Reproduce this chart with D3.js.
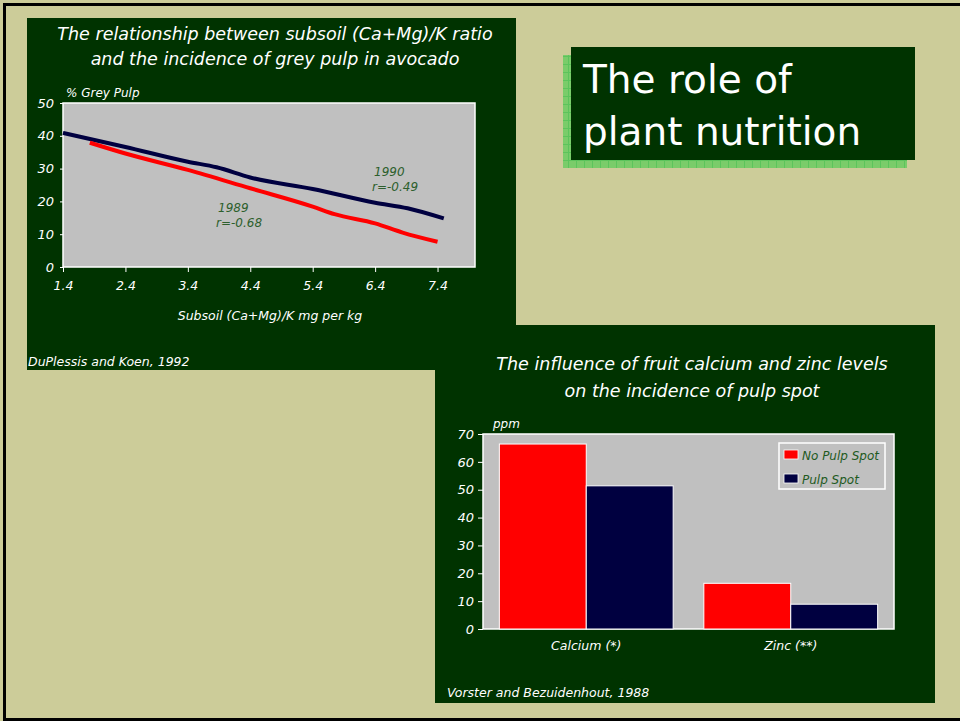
<!DOCTYPE html>
<html>
<head>
<meta charset="utf-8">
<script src="https://cdn.jsdelivr.net/npm/d3@7/dist/d3.min.js"></script>
<style>
  html, body { margin: 0; padding: 0; background: #cccc99; }
  svg { display: block; }
</style>
</head>
<body>
<svg id="slide" width="960" height="721"></svg>
<script>
// line chart data
var xTicks = [1.4, 2.4, 3.4, 4.4, 5.4, 6.4, 7.4];
var ratio1990 = [1.4, 2.4, 3.4, 3.86, 4.4, 5.4, 6.4, 6.92, 7.5];
var grey1990 = [40.9, 36.6, 32.1, 30.4, 27.3, 23.8, 19.6, 17.9, 14.8];
var ratio1989 = [1.83, 2.4, 3.4, 4.4, 5.4, 5.75, 6.4, 6.84, 7.4];
var grey1989 = [37.9, 34.6, 29.6, 24.0, 18.4, 16.1, 13.3, 10.5, 7.7];

// bar chart data
var nutrients = ["Calcium (*)", "Zinc (**)"];
var seriesNames = ["No Pulp Spot", "Pulp Spot"];
var noPulpSpot = [66.4, 16.4];
var pulpSpot = [51.4, 8.9];

var FONT = '"Comic Sans MS", "DejaVu Sans", sans-serif';
var GREEN = "#003300";
var RED = "#ff0000";
var NAVY = "#000040";

var svg = d3.select("#slide");

// slide background + frame
svg.append("rect").attr("width", 960).attr("height", 721).attr("fill", "#cccc99");
svg.append("rect").attr("x", 4.5).attr("y", 4.5).attr("width", 1000).attr("height", 715)
    .attr("fill", "none").attr("stroke", "#000").attr("stroke-width", 3);

// panels
svg.append("rect").attr("x", 27).attr("y", 18).attr("width", 489).attr("height", 352).attr("fill", GREEN);
svg.append("rect").attr("x", 435).attr("y", 325).attr("width", 500).attr("height", 378).attr("fill", GREEN);

// title box with green grid shadow
var defs = svg.append("defs");
var pat = defs.append("pattern").attr("id", "grid").attr("patternUnits", "userSpaceOnUse")
    .attr("width", 8).attr("height", 8);
pat.append("rect").attr("width", 8).attr("height", 8).attr("fill", "#7acc6a");
pat.append("path").attr("d", "M0 0.5H8M0.5 0V8").attr("stroke", "#5cc45c").attr("stroke-width", 1);
svg.append("rect").attr("x", 563).attr("y", 55).attr("width", 344).attr("height", 113).attr("fill", "url(#grid)");
svg.append("rect").attr("x", 571).attr("y", 47).attr("width", 344).attr("height", 113).attr("fill", GREEN);
svg.append("text").attr("x", 583).attr("y", 93).text("The role of")
    .attr("fill", "#fff").style("font-family", FONT).style("font-size", "39px");
svg.append("text").attr("x", 583).attr("y", 145).text("plant nutrition")
    .attr("fill", "#fff").style("font-family", FONT).style("font-size", "39px");

function label(g, x, y, txt, size, color, anchor) {
    return g.append("text").attr("x", x).attr("y", y).text(txt)
        .attr("fill", color || "#fff")
        .attr("text-anchor", anchor || "start")
        .style("font-family", FONT).style("font-style", "italic")
        .style("font-size", size + "px");
}

function styleAxis(g, size) {
    g.select(".domain").remove();
    g.selectAll(".tick line").attr("stroke", "#fff");
    g.selectAll(".tick text").attr("fill", "#fff")
        .style("font-family", FONT).style("font-style", "italic").style("font-size", size + "px");
}

// ---------- line chart ----------
(function () {
    var left = 63, right = 475, top = 103, bottom = 267;
    var x = d3.scaleLinear().domain([1.4, 8.0]).range([left, right]);
    var y = d3.scaleLinear().domain([0, 50]).range([bottom, top]);

    label(svg, 275, 40, "The relationship between subsoil (Ca+Mg)/K ratio", 17.5, "#fff", "middle");
    label(svg, 275, 65, "and the incidence of grey pulp in avocado", 17.5, "#fff", "middle");

    svg.append("rect").attr("x", left).attr("y", top).attr("width", right - left).attr("height", bottom - top)
        .attr("fill", "#c0c0c0").attr("stroke", "#fff").attr("stroke-width", 1.5);

    var ya = svg.append("g").attr("transform", "translate(" + left + ",0)")
        .call(d3.axisLeft(y).tickValues([0, 10, 20, 30, 40, 50]).tickSize(3).tickPadding(6));
    styleAxis(ya, 13);
    var xa = svg.append("g").attr("transform", "translate(0," + bottom + ")")
        .call(d3.axisBottom(x).tickValues(xTicks).tickFormat(d3.format(".1f")).tickSize(5).tickPadding(9));
    styleAxis(xa, 12.5);

    label(svg, 66, 97, "% Grey Pulp", 12);
    label(svg, 270, 320, "Subsoil (Ca+Mg)/K mg per kg", 12.5, "#fff", "middle");
    label(svg, 28, 366, "DuPlessis and Koen, 1992", 12.5);

    var line = d3.line().x(function (d) { return x(d[0]); }).y(function (d) { return y(d[1]); })
        .curve(d3.curveMonotoneX);
    svg.append("path").datum(d3.zip(ratio1990, grey1990)).attr("d", line)
        .attr("fill", "none").attr("stroke", NAVY).attr("stroke-width", 4);
    svg.append("path").datum(d3.zip(ratio1989, grey1989)).attr("d", line)
        .attr("fill", "none").attr("stroke", RED).attr("stroke-width", 4);

    label(svg, 374, 176, "1990", 12, "#2d5f2d");
    label(svg, 372, 191, "r=-0.49", 12, "#2d5f2d");
    label(svg, 218, 212, "1989", 12, "#2d5f2d");
    label(svg, 216, 227, "r=-0.68", 12, "#2d5f2d");
})();

// ---------- bar chart ----------
(function () {
    var left = 483, right = 894, top = 434, bottom = 629;
    var x0 = d3.scaleBand().domain(nutrients).range([left, right]).paddingInner(0.15).paddingOuter(0.08);
    var x1 = d3.scaleBand().domain(seriesNames).range([0, x0.bandwidth()]);
    var y = d3.scaleLinear().domain([0, 70]).range([bottom, top]);
    var color = d3.scaleOrdinal().domain(seriesNames).range([RED, NAVY]);

    label(svg, 692, 370, "The influence of fruit calcium and zinc levels", 17.5, "#fff", "middle");
    label(svg, 692, 397, "on the incidence of pulp spot", 17.5, "#fff", "middle");

    svg.append("rect").attr("x", left).attr("y", top).attr("width", right - left).attr("height", bottom - top)
        .attr("fill", "#c0c0c0").attr("stroke", "#fff").attr("stroke-width", 1.5);

    var ya = svg.append("g").attr("transform", "translate(" + left + ",0)")
        .call(d3.axisLeft(y).tickValues(d3.range(0, 71, 10)).tickSize(5).tickPadding(4));
    styleAxis(ya, 13);

    label(svg, 493, 428, "ppm", 12);

    var rows = nutrients.map(function (n, i) {
        return { name: n, values: [noPulpSpot[i], pulpSpot[i]] };
    });
    var groups = svg.append("g").selectAll("g").data(rows).enter().append("g")
        .attr("transform", function (d) { return "translate(" + x0(d.name) + ",0)"; });
    groups.selectAll("rect").data(function (d) {
        return d.values.map(function (v, j) { return { key: seriesNames[j], value: v }; });
    }).enter().append("rect")
        .attr("x", function (d) { return x1(d.key); })
        .attr("y", function (d) { return y(d.value); })
        .attr("width", x1.bandwidth())
        .attr("height", function (d) { return bottom - y(d.value); })
        .attr("fill", function (d) { return color(d.key); })
        .attr("stroke", "#fff").attr("stroke-width", 1);

    nutrients.forEach(function (n) {
        label(svg, x0(n) + x0.bandwidth() / 2, 650, n, 12.5, "#fff", "middle");
    });

    // legend
    var lg = svg.append("g").attr("transform", "translate(779,443)");
    lg.append("rect").attr("width", 106).attr("height", 46).attr("fill", "#c0c0c0")
        .attr("stroke", "#fff").attr("stroke-width", 1.5);
    seriesNames.forEach(function (s, i) {
        lg.append("rect").attr("x", 5).attr("y", 7 + i * 24).attr("width", 14).attr("height", 9)
            .attr("fill", color(s)).attr("stroke", "#fff").attr("stroke-width", 0.8);
        label(lg, 23, 17 + i * 24, s, 12, "#1e5a1e");
    });

    label(svg, 447, 697, "Vorster and Bezuidenhout, 1988", 12.5);
})();
</script>
</body>
</html>
